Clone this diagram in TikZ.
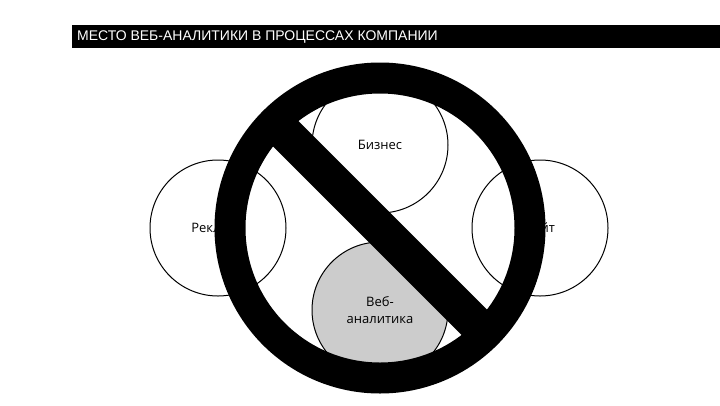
\documentclass[tikz,border=0pt]{standalone}
\usepackage{fontspec}
\usetikzlibrary{calc}
\setmainfont{Open Sans}
\newfontfamily\titlefont{Liberation Sans}
\begin{document}
\begin{tikzpicture}[x=1pt,y=-1pt,
  venn/.style={circle,draw=black,line width=1pt,minimum size=136pt,inner sep=0pt,align=center,font=\fontsize{13}{17}\selectfont}]
\useasboundingbox (0,0) rectangle (720,405);
\fill[white] (0,0) rectangle (720,405);
\node[fill=black,minimum width=648pt,minimum height=23pt,inner sep=0pt,anchor=north west] (title) at (72,25) {};
\node[anchor=west,text=white,font=\titlefont\fontsize{14}{16}\selectfont,inner sep=0pt] (tt) at (77,37) {МЕСТО ВЕБ-АНАЛИТИКИ В ПРОЦЕССАХ КОМПАНИИ};
\node[venn,fill=white] (biz) at (380,145) {Бизнес};
\node[venn,fill=white] (rek) at (218,228) {Реклама};
\node[venn,fill=white] (site) at (540,228) {Сайт};
\node[venn,fill=black!20] (web) at (380,310) {Веб-\\аналитика};
\coordinate (c) at (380,228);
\draw[line width=31pt] (c) circle[radius=150];
\draw[line width=36pt] ($(c)+(-135:140)$) -- ($(c)+(45:140)$);
\end{tikzpicture}
\end{document}
